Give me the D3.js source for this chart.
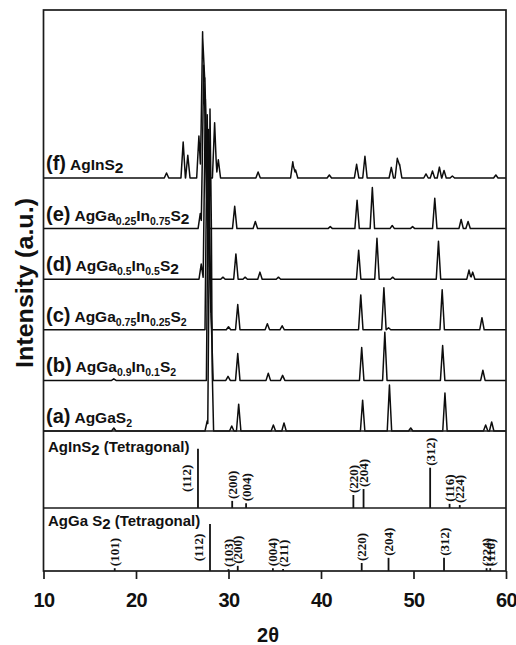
<!DOCTYPE html>
<html>
<head>
<meta charset="utf-8">
<script src="https://cdn.jsdelivr.net/npm/d3@7"></script>
<style>
  body { margin: 0; background: #fff; }
  svg { display: block; font-family: "Liberation Sans", Arial, sans-serif; }
</style>
</head>
<body>
<div id="chart"></div>
<script>
// measured XRD peaks, [2theta, counts above the trace's own baseline]
const peaksA = [[17.6,60],[27.7,200],[28.0,5650],[28.15,1900],[30.35,100],[31.1,530],[34.85,120],[36.0,160],
  [44.5,610],[47.4,910],[49.7,60],[53.4,750],[57.8,120],[58.45,180]];
const peaksB = [[17.6,30],[27.85,4960],[28.1,1400],[29.95,80],[31.0,530],[34.3,140],[35.85,100],
  [44.4,650],[46.9,950],[53.15,690],[57.5,200]];
const peaksC = [[27.7,4250],[27.95,1300],[30.0,60],[31.0,500],[34.2,120],[35.8,80],
  [44.3,690],[46.8,830],[47.3,40],[53.1,790],[57.4,240]];
const peaksD = [[27.05,300],[27.5,3560],[27.75,1200],[29.4,40],[30.8,500],[31.8,40],[33.4,140],[35.4,40],
  [44.07,570],[46.05,810],[47.75,40],[52.7,750],[56.0,180],[56.4,140]];
const peaksE = [[26.95,300],[27.3,2980],[27.5,1500],[30.67,440],[32.9,140],[41.0,40],
  [43.9,560],[45.55,810],[47.7,60],[49.9,40],[52.3,600],[55.15,180],[55.9,140]];
const peaksF = [[23.3,100],[25.1,710],[25.6,450],[26.8,830],[27.2,2890],[27.45,1980],[27.8,690],[28.5,1090],
  [28.9,360],[33.2,120],[36.95,320],[37.25,160],[40.9,60],[43.85,270],[44.75,430],[47.6,210],[48.25,390],
  [48.5,270],[51.35,80],[52.05,140],[52.8,215],[53.3,150],[54.2,40],[58.9,60]];
const patterns = [peaksA, peaksB, peaksC, peaksD, peaksE, peaksF];
const offsetStep = 1000;

// sample labels: [text, part]
const sampleLabels = [
  [['(a)','tag'],['AgGa','m'],['S','m'],['2','sub']],
  [['(b)','tag'],['AgGa','m'],['0.9','sub'],['In','m'],['0.1','sub'],['S','m'],['2','sub']],
  [['(c)','tag'],['AgGa','m'],['0.75','sub'],['In','m'],['0.25','sub'],['S','m'],['2','sub']],
  [['(d)','tag'],['AgGa','m'],['0.5','sub'],['In','m'],['0.5','sub'],['S','m'],['2','low']],
  [['(e)','tag'],['AgGa','m'],['0.25','sub'],['In','m'],['0.75','sub'],['S','m'],['2','low']],
  [['(f)','tag'],['AgInS','m'],['2','low']]
];

// reference patterns (relative intensity)
const refInHkl = ['(112)','(200)','(004)','(220)','(204)','(312)','(116)','(224)'];
const refInPos = [26.7, 30.4, 31.9, 43.5, 44.6, 51.8, 53.9, 55.0];
const refInInt = [100, 12, 8, 22, 32, 68, 7, 5];
const refGaHkl = ['(101)','(112)','(103)','(200)','(004)','(211)','(220)','(204)','(312)','(224)','(116)'];
const refGaPos = [17.7, 28.0, 30.0, 31.0, 34.8, 35.9, 44.4, 47.3, 53.3, 57.9, 58.3];
const refGaInt = [6, 100, 4, 11, 6, 4, 17, 28, 28, 6, 6];

const xTicks = [10, 20, 30, 40, 50, 60];

const w = 516, h = 645;
const plotLeft = 43.5, plotRight = 506, plotTop = 10, plotBottom = 571;
const sepIn = 431, sepGa = 508;
const halfWidth = 0.24;

const svg = d3.select('#chart').append('svg').attr('width', w).attr('height', h);

const x = d3.scaleLinear().domain([10, 60]).range([plotLeft, plotRight]);
const y = d3.scaleLinear().domain([0, 8320]).range([sepIn, plotTop]);
const yIn = d3.scaleLinear().domain([0, 130]).range([sepGa, sepIn]);
const yGa = d3.scaleLinear().domain([0, 134]).range([plotBottom, sepGa]);

// triangle peaks summed at every break point -> exact piecewise-linear trace
const tracePoints = peaks => {
  const xs = [10, 60];
  peaks.forEach(p => xs.push(p[0] - halfWidth, p[0], p[0] + halfWidth));
  xs.sort((a, b) => a - b);
  return xs.map(t => [t, d3.sum(peaks, p => Math.max(0, p[1] * (1 - Math.abs(t - p[0]) / halfWidth)))]);
};

const line = d3.line().x(d => x(d[0])).y(d => d[1]);

patterns.forEach((peaks, i) => {
  const base = i * offsetStep;
  svg.append('path')
    .attr('d', line(tracePoints(peaks).map(d => [d[0], y(base + d[1])])))
    .attr('fill', 'none')
    .attr('stroke', '#0d0d0d')
    .attr('stroke-width', 1.5)
    .attr('stroke-linejoin', 'round');
});

// sample labels
sampleLabels.forEach((parts, i) => {
  const t = svg.append('text')
    .attr('x', 46)
    .attr('y', y(i * offsetStep) - 8)
    .attr('font-weight', 'bold')
    .attr('fill', '#111');
  let shift = 0;
  parts.forEach((p, k) => {
    const want = p[1] === 'sub' ? 4 : p[1] === 'low' ? 3 : 0;
    const size = p[1] === 'tag' ? 20 : p[1] === 'sub' ? 10.5 : 15.5;
    t.append('tspan')
      .attr('dy', want - shift)
      .attr('dx', k === 1 ? 4 : 0)
      .attr('font-size', size)
      .text(p[0]);
    shift = want;
  });
});

// reference stick patterns
const drawRef = (hkl, pos, inten, ys) => {
  const g = svg.append('g');
  pos.forEach((p, i) => {
    g.append('line')
      .attr('x1', x(p)).attr('x2', x(p))
      .attr('y1', ys(0)).attr('y2', ys(inten[i]))
      .attr('stroke', '#111').attr('stroke-width', 1.8);
    const beside = inten[i] >= 100;
    const lx = beside ? x(p) - 12 : x(p);
    const ly = beside ? (ys(0) + ys(inten[i])) / 2 : ys(inten[i]) - 2;
    g.append('text')
      .attr('transform', `translate(${lx},${ly}) rotate(-90)`)
      .attr('dy', '0.35em')
      .attr('text-anchor', beside ? 'middle' : 'start')
      .attr('font-family', '"Liberation Serif", "Times New Roman", serif')
      .attr('font-weight', 'bold')
      .attr('font-size', 13)
      .attr('fill', '#111')
      .text(hkl[i]);
  });
};
drawRef(refInHkl, refInPos, refInInt, yIn);
drawRef(refGaHkl, refGaPos, refGaInt, yGa);

const refTitle = (yy, head, tail) => {
  const t = svg.append('text').attr('x', 48).attr('y', yy)
    .attr('font-size', 15).attr('font-weight', 'bold').attr('fill', '#111');
  t.append('tspan').text(head);
  t.append('tspan').attr('dy', 3).text('2');
  t.append('tspan').attr('dy', -3).text(' ' + tail);
};
refTitle(452, 'AgInS', '(Tetragonal)');
refTitle(526, 'AgGa S', '(Tetragonal)');

// frame and separators
svg.append('rect')
  .attr('x', plotLeft).attr('y', plotTop)
  .attr('width', plotRight - plotLeft).attr('height', plotBottom - plotTop)
  .attr('fill', 'none').attr('stroke', '#1a1a1a').attr('stroke-width', 1.7);
[sepIn, sepGa].forEach(s => svg.append('line')
  .attr('x1', plotLeft).attr('x2', plotRight).attr('y1', s).attr('y2', s)
  .attr('stroke', '#1a1a1a').attr('stroke-width', 1.7));

// x axis
const xAxis = svg.append('g')
  .attr('transform', `translate(0,${plotBottom})`)
  .call(d3.axisBottom(x).tickValues(xTicks).tickSize(8).tickPadding(14).tickFormat(d3.format('d')));
xAxis.select('.domain').remove();
xAxis.selectAll('line').attr('stroke', '#1a1a1a').attr('stroke-width', 1.7);
xAxis.selectAll('text')
  .attr('font-family', '"Liberation Sans", Arial, sans-serif')
  .attr('font-size', 20).attr('font-weight', 'bold')
  .attr('letter-spacing', -0.5).attr('fill', '#111');

svg.append('text')
  .attr('x', 268).attr('y', 642)
  .attr('text-anchor', 'middle')
  .attr('font-size', 20).attr('font-weight', 'bold').attr('fill', '#111')
  .text('2θ');

svg.append('text')
  .attr('transform', 'translate(33,283) rotate(-90)')
  .attr('text-anchor', 'middle')
  .attr('font-size', 23).attr('font-weight', 'bold').attr('fill', '#111')
  .attr('textLength', 170).attr('lengthAdjust', 'spacingAndGlyphs')
  .text('Intensity (a.u.)');
</script>
</body>
</html>
